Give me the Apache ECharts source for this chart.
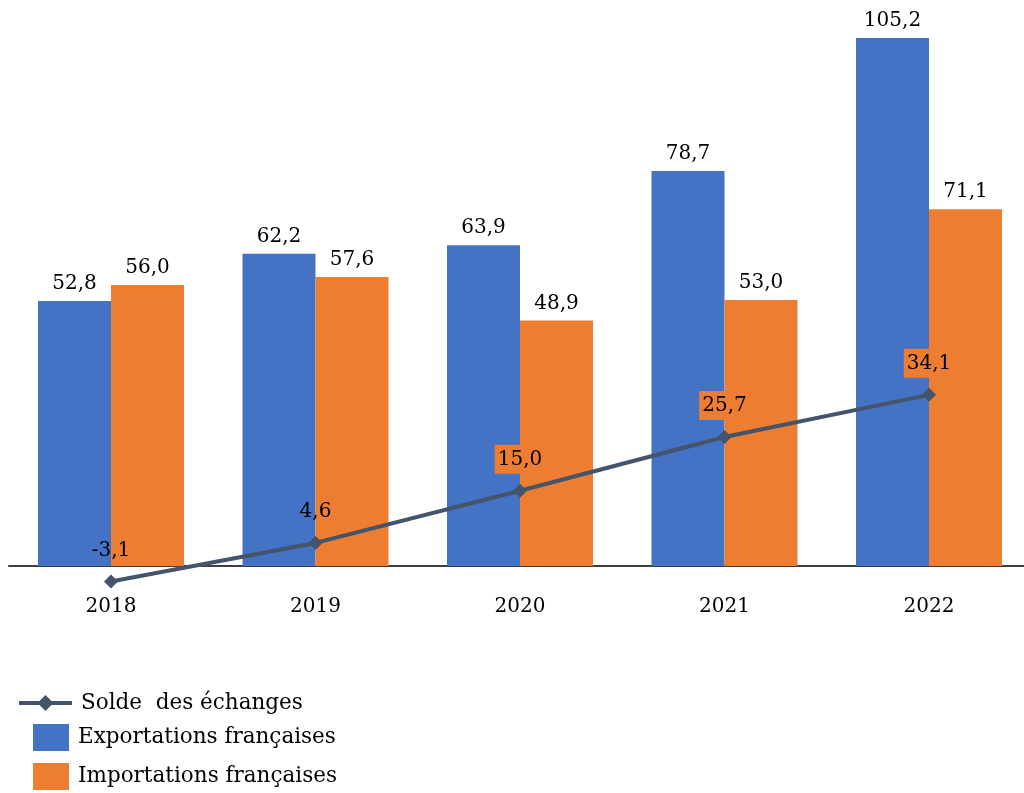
<!DOCTYPE html>
<html><head><meta charset="utf-8">
<script src="https://cdn.jsdelivr.net/npm/echarts@6/dist/echarts.min.js"></script>
<style>html,body{margin:0;padding:0;background:#fff}#c{width:1024px;height:793px}</style>
</head><body><div id="c"></div>
<script>
const years = ['2018','2019','2020','2021','2022'];
const exportsFR = [52.8, 62.2, 63.9, 78.7, 105.2];
const importsFR = [56.0, 57.6, 48.9, 53.0, 71.1];
const solde = [-3.1, 4.6, 15.0, 25.7, 34.1];
const names = ['Solde  des échanges','Exportations françaises','Importations françaises'];
const FONT = 'DejaVu Serif';
const FS = 20;
const fmt = v => v.toFixed(1).replace('.', ',');
const legText = {fontFamily:FONT,fontSize:21.5,color:'#000',padding:[0,0,0,4]};
const idx = years.map((y,i)=>i);
const chart = echarts.init(document.getElementById('c'));
chart.setOption({
  animation:false,
  textStyle:{fontFamily:FONT},
  grid:{left:8.75, right:0, top:13.9, height:602.3},
  legend:[
    {data:[names[0]], left:17, top:692, padding:0, itemWidth:53, itemHeight:20,
     lineStyle:{width:4}, textStyle:legText},
    {data:[names[1]], left:33, top:724, padding:0, itemWidth:36, itemHeight:27,
     icon:'rect', textStyle:legText},
    {data:[names[2]], left:33, top:763, padding:0, itemWidth:36, itemHeight:27,
     icon:'rect', textStyle:legText}
  ],
  xAxis:{type:'value', min:-0.5, max:4.5 - 7.25/204.5,
    splitLine:{show:false},
    axisLine:{onZero:true, lineStyle:{color:'#000', width:1.5}},
    axisTick:{show:false},
    axisLabel:{customValues:idx, formatter:v=>years[Math.round(v)] || '', fontFamily:FONT, fontSize:FS, color:'#000', margin:-19}},
  yAxis:{type:'value', min:-10, max:110, show:false, splitLine:{show:false}},
  series:[
    {name:names[1], type:'bar', data:exportsFR.map((v,i)=>[i,v]), barWidth:73, barGap:'0%',
     itemStyle:{color:'#4472C4'},
     label:{show:true, position:'top', distance:7, fontFamily:FONT, fontSize:FS, color:'#000', formatter:p=>fmt(p.value[1])}},
    {name:names[2], type:'bar', data:importsFR.map((v,i)=>[i,v]), barWidth:73, barGap:'0%',
     itemStyle:{color:'#ED7D31'},
     label:{show:true, position:'top', distance:7, fontFamily:FONT, fontSize:FS, color:'#000', formatter:p=>fmt(p.value[1])}},
    {name:names[0], type:'line', z:5, data:solde.map((v,i)=>({value:[i,v],
        label: i>=2 ? {backgroundColor:'#ED7D31'} : {}})),
     symbol:'diamond', symbolSize:14, lineStyle:{color:'#44546A', width:4},
     itemStyle:{color:'#44546A'},
     label:{show:true, position:'top', distance:10, padding:[5,3,4,3], fontFamily:FONT, fontSize:FS, color:'#000', formatter:p=>fmt(p.value[1])}}
  ]
});
</script></body></html>
